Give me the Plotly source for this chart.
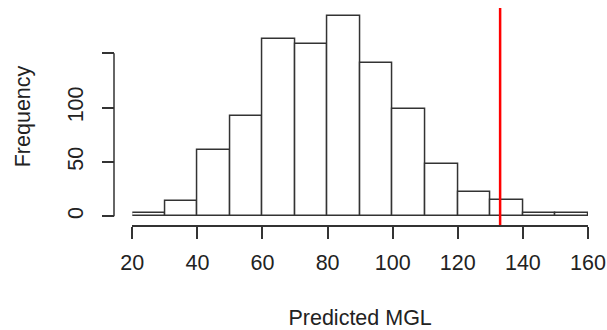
import plotly.graph_objects as go

# Histogram bins (left edges) and counts
bin_starts = [20, 30, 40, 50, 60, 70, 80, 90, 100, 110, 120, 130, 140, 150]
bin_width = 10
counts = [3, 14, 61, 92, 163, 159, 184, 141, 99, 48, 22, 15, 3, 3]
x_ticks = [20, 40, 60, 80, 100, 120, 140, 160]
y_ticks = [0, 50, 100, 150]
y_tick_labels = ["0", "50", "100", ""]
ref_value = 133

centers = [b + bin_width / 2 for b in bin_starts]
FONT = "Liberation Sans, Arial, sans-serif"
INK = "#333333"

fig = go.Figure()
fig.add_trace(go.Bar(
    x=centers, y=counts, width=[bin_width] * len(counts),
    marker=dict(color="white", line=dict(color=INK, width=1.5)),
    hoverinfo="x+y", showlegend=False,
))

fig.add_shape(type="line", xref="paper", yref="y", x0=0, x1=0,
              y0=y_ticks[0], y1=y_ticks[-1], line=dict(color=INK, width=1.5))
fig.add_shape(type="line", xref="x", yref="paper", x0=ref_value, x1=ref_value,
              y0=0, y1=1, line=dict(color="#FF0000", width=2.5))

fig.update_layout(
    width=607, height=330,
    margin=dict(l=114, r=19, t=8, b=105, autoexpand=False),
    paper_bgcolor="white", plot_bgcolor="white",
    font=dict(family=FONT, size=21.5, color="#222222"),
    bargap=0,
    xaxis=dict(
        domain=[0.0386, 1], range=[20, 160], automargin=False,
        tickvals=x_ticks, ticks="outside", ticklen=12, tickwidth=1.5, tickcolor=INK,
        showline=True, linecolor=INK, linewidth=1.5,
        showgrid=False, zeroline=False, ticklabelstandoff=5,
        title=dict(text="Predicted MGL", standoff=36, font=dict(size=21.5)),
    ),
    yaxis=dict(
        anchor="free", position=0, range=[-8.0, 191.7], automargin=False,
        tickvals=y_ticks, ticktext=y_tick_labels, tickangle=-90,
        ticks="outside", ticklen=12, tickwidth=1.5, tickcolor=INK,
        showline=False, showgrid=False, zeroline=False, ticklabelstandoff=10,
        title=dict(text="Frequency", standoff=26, font=dict(size=21.5)),
    ),
)

fig.write_html("out.html", config={"displayModeBar": False},
               post_script="document.body.style.margin='0';")
